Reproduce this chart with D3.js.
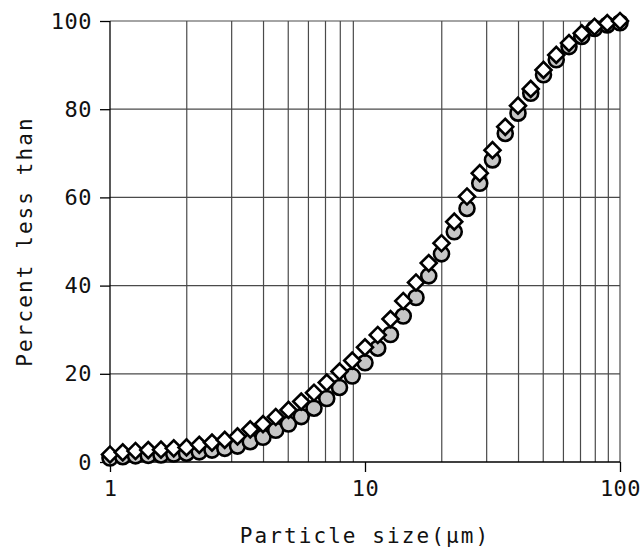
<!DOCTYPE html>
<html>
<head>
<meta charset="utf-8">
<script src="https://cdn.jsdelivr.net/npm/d3@7"></script>
<style>
  body { margin: 0; background: #fff; }
  text { font-family: "DejaVu Sans Mono", monospace; }
</style>
</head>
<body>
<div id="chart"></div>
<script>
// particle sizes, 20 steps per decade from 1 to 100 um
const sizes = d3.range(41).map(i => Math.pow(10, i / 20));

// grey circles
const seriesA = [0.9, 1.2, 1.4, 1.5, 1.6, 1.8, 2.0, 2.3, 2.7, 3.1,
  3.6, 4.6, 5.6, 7.2, 8.6, 10.3, 12.2, 14.4, 16.9, 19.5,
  22.5, 25.8, 28.9, 33.1, 37.3, 42.2, 47.2, 52.2, 57.5, 63.2,
  68.5, 74.5, 79.1, 83.6, 87.8, 91.2, 94.2, 96.5, 98.3, 99.1, 99.6];

// white diamonds
const seriesB = [1.7, 2.2, 2.5, 2.7, 2.8, 3.1, 3.3, 3.9, 4.4, 5.0,
  5.8, 7.4, 8.6, 10.2, 11.8, 13.7, 15.7, 18.0, 20.5, 23.0,
  26.0, 28.8, 32.4, 36.5, 40.7, 45.1, 49.6, 54.5, 60.2, 65.5,
  70.7, 76.0, 80.8, 84.6, 88.9, 92.3, 95.0, 97.2, 98.7, 99.5, 100];

const xTicks = [1, 10, 100];
const xGrid = [2, 3, 4, 5, 6, 7, 8, 9, 20, 30, 40, 50, 60, 70, 80, 90, 100];
const yTicks = [0, 20, 40, 60, 80, 100];

const width = 642, height = 549;
const margin = {top: 21, right: 22, bottom: 87, left: 110};

const svg = d3.select('#chart').append('svg')
  .attr('width', width)
  .attr('height', height);

const x = d3.scaleLog()
  .domain([1, 100])
  .range([margin.left, width - margin.right]);
const y = d3.scaleLinear()
  .domain([0, 100])
  .range([height - margin.bottom, margin.top]);

// grid
svg.append('g')
  .selectAll('line')
  .data(xGrid)
  .enter()
  .append('line')
  .attr('x1', d => x(d)).attr('x2', d => x(d))
  .attr('y1', y(0)).attr('y2', y(100))
  .attr('stroke', '#4a4a4a')
  .attr('stroke-width', 1.2);

svg.append('g')
  .selectAll('line')
  .data(yTicks.filter(d => d > 0))
  .enter()
  .append('line')
  .attr('x1', x(1)).attr('x2', x(100))
  .attr('y1', d => y(d)).attr('y2', d => y(d))
  .attr('stroke', '#4a4a4a')
  .attr('stroke-width', 1.2);

// axes
const yAxis = d3.axisLeft(y)
  .tickValues(yTicks)
  .tickSize(10)
  .tickPadding(8);
const gy = svg.append('g')
  .attr('transform', 'translate(' + x(1) + ',0)')
  .call(yAxis);

const xAxis = d3.axisBottom(x)
  .tickValues(xTicks)
  .tickFormat(d3.format('d'))
  .tickSize(10)
  .tickPadding(8);
const gx = svg.append('g')
  .attr('transform', 'translate(0,' + y(0) + ')')
  .call(xAxis);

[gx, gy].forEach(g => {
  g.select('.domain').attr('stroke', '#000').attr('stroke-width', 1.3);
  g.selectAll('.tick line').attr('stroke', '#000').attr('stroke-width', 1.3);
  g.selectAll('.tick text')
    .attr('fill', '#111')
    .style('font-family', '"DejaVu Sans Mono", monospace')
    .style('font-size', '22px')
    .style('letter-spacing', '0.5px');
});
gx.select('.domain').attr('d', 'M' + x(1) + ',0H' + x(100));
gy.select('.domain').attr('d', 'M0,' + y(0) + 'V' + y(100));

// circles
svg.append('g')
  .selectAll('circle')
  .data(seriesA)
  .enter()
  .append('circle')
  .attr('cx', (d, i) => x(sizes[i]))
  .attr('cy', d => y(d))
  .attr('r', 7.5)
  .attr('fill', '#c6c6c6')
  .attr('stroke', '#000')
  .attr('stroke-width', 2.6);

// diamonds
const diamond = d3.symbol().type(d3.symbolSquare).size(128);
svg.append('g')
  .selectAll('path')
  .data(seriesB)
  .enter()
  .append('path')
  .attr('d', diamond)
  .attr('transform', (d, i) => 'translate(' + x(sizes[i]) + ',' + y(d) + ') rotate(45)')
  .attr('fill', '#fff')
  .attr('stroke', '#000')
  .attr('stroke-width', 2.6);

// labels
svg.append('text')
  .attr('x', x(10))
  .attr('y', 543)
  .attr('text-anchor', 'middle')
  .attr('fill', '#111')
  .style('font-size', '21px')
  .style('letter-spacing', '2.1px')
  .text('Particle size(μm)');

svg.append('text')
  .attr('transform', 'translate(32,' + y(50) + ') rotate(-90)')
  .attr('text-anchor', 'middle')
  .attr('fill', '#111')
  .style('font-size', '21px')
  .style('letter-spacing', '2.1px')
  .text('Percent less than');
</script>
</body>
</html>
